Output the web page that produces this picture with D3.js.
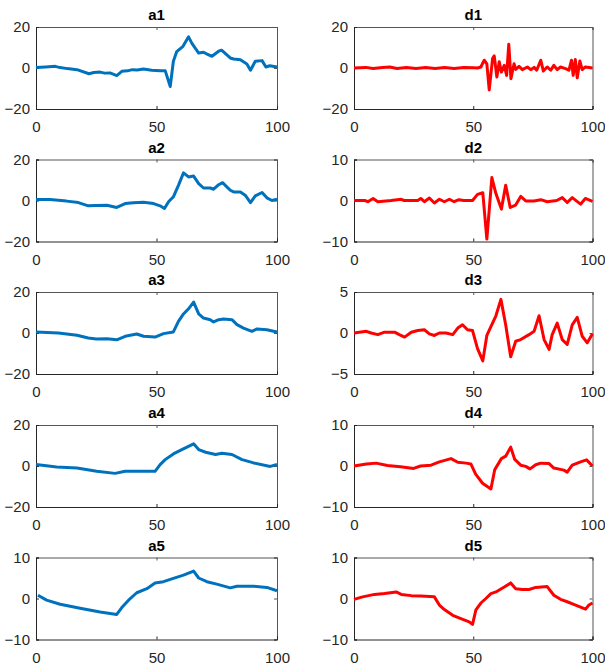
<!DOCTYPE html>
<html>
<head>
<meta charset="utf-8">
<script src="https://cdn.jsdelivr.net/npm/d3@7"></script>
<style>
  body { margin: 0; background: #fff; }
  svg { display: block; }
  .tick text { font-family: "Liberation Sans", Arial, sans-serif; font-size: 15px; fill: #262626; }
  .title { font-family: "Liberation Sans", Arial, sans-serif; font-size: 15px; font-weight: bold; fill: #000; }
</style>
</head>
<body>
<script>
// approximation series (blue), [x, y]
var a1 = [[0,0.3],[4,0.5],[8,0.8],[10,0.2],[13,-0.3],[17,-0.8],[22,-2.8],[24,-2.2],[26.6,-2],[28.5,-2.5],[30.7,-2.4],[33.5,-3.7],[35.6,-1.6],[38,-1.4],[40,-0.8],[42,-1],[44.6,-0.5],[48,-1.1],[51.5,-1.3],[53.6,-1.3],[55.7,-9],[57,3.3],[58.4,8],[61,10.6],[63.3,15.2],[64.7,12],[67.5,7.3],[69.5,7.7],[71,6.8],[73,5.7],[75.8,8.2],[77,8.7],[80.6,4.9],[82,4.4],[84.8,4],[87.5,2],[89,-1.1],[91,3.3],[93.8,3.6],[95.4,0.5],[97,1.1],[100,0.5]];
var a2 = [[0,0.5],[5.8,0.5],[12.7,-0.3],[17.6,-1],[21.7,-2.6],[25,-2.4],[29.4,-2.3],[33.5,-3.4],[37,-1.5],[40.4,-1.1],[44.6,-0.8],[48.8,-1.5],[51.5,-2.6],[53.3,-3.9],[55,-0.6],[57,1.8],[59.1,7.4],[61.2,13.5],[63.3,11.5],[65.4,11.9],[67.5,8.2],[69.5,6.1],[72.3,6.1],[73.7,5.5],[75.8,7.7],[77.4,8.7],[80.6,5],[82,4.2],[84.8,4.2],[86.8,2.6],[89,-1],[91,2.3],[93.8,3.9],[95.8,1.3],[97.9,0],[100,0.6]];
var a3 = [[0,0.5],[9.3,0],[17,-1.1],[21.7,-2.4],[25,-2.9],[29.4,-2.8],[33.5,-3.3],[37,-1.6],[41.8,-0.5],[44.6,-1.6],[49.4,-2],[52.9,-0.3],[57,0.5],[59.1,5.7],[61.2,9.3],[63.6,12.2],[65.4,15.1],[67.5,9.3],[69.5,7.3],[72.3,6.5],[73.7,5.4],[75.8,6.5],[77.8,6.8],[81.3,6.5],[83.4,4.1],[86.1,2.4],[89.6,0.8],[91.7,2],[95.8,1.6],[100,0.5]];
var a4 = [[0,0.7],[8.6,-0.5],[17,-1],[25.2,-2.6],[32.8,-3.6],[37,-2.6],[43.2,-2.6],[49.4,-2.6],[51.5,0.7],[53.6,3.1],[57,5.9],[60.5,8],[65.4,10.8],[67.5,8],[70.4,6.7],[74.5,5.6],[77.1,6.2],[81.3,5.6],[85.5,3.1],[90.3,1.5],[97.2,-0.2],[100,0.7]];
var a5 = [[0.8,0.8],[4.4,-0.4],[10,-1.4],[18.3,-2.4],[26.6,-3.3],[33.5,-3.9],[35.6,-2.2],[38.4,-0.4],[41.8,1.4],[46,2.4],[49.4,3.8],[52.9,4.1],[57,4.9],[61.2,5.7],[65.4,6.7],[67.5,5],[70.9,4.1],[75,3.5],[80.6,2.6],[83.4,3],[90.3,3],[95.8,2.7],[100,1.9]];

// detail series (red), [x, y]
var d1 = [[0,0],[5,0.3],[8,-0.2],[12,0.2],[15,0.5],[18,-0.2],[22,0.3],[26,-0.2],[30,0.2],[34,-0.3],[38,0.2],[42,-0.2],[46,0.2],[50,0.1],[51.8,0],[53.2,0.5],[54.6,3.8],[55.7,2],[56.7,-10.7],[58.1,4.6],[58.8,5.9],[59.9,-4.4],[60.9,3],[61.8,-2],[63,1.3],[64,-3.6],[64.9,11.6],[65.8,-5.2],[67.1,2.1],[67.8,-0.7],[69.2,0.8],[70.6,-0.8],[72.7,0.5],[74.1,-0.8],[75.5,0.3],[76.6,-1.1],[78.3,3.8],[79.4,-1.5],[81,0.5],[82.5,-1.1],[83.8,1.3],[85.2,-0.8],[86.6,0.5],[88.7,-0.3],[90.1,-1.1],[91.2,3.8],[91.9,-3.6],[92.8,4.1],[93.6,-4.8],[94.7,3.4],[95.7,-0.8],[97,0.5],[100,0]];
var d2 = [[0,0],[4.5,0],[5.8,-0.3],[8,0.5],[10,-0.3],[15.6,0],[19.8,0.3],[21,0],[26.7,0],[28,0.5],[29.5,-0.3],[31.6,0.6],[33.7,-0.6],[35.8,0.3],[37.9,-0.3],[40,0.3],[42,-0.3],[44,0.2],[46,0],[49.7,0],[51.8,1.5],[54,1.9],[55.7,-9.4],[57.8,5.6],[59.5,1.7],[61.8,-2.1],[63.6,3.7],[65.5,-1.7],[67.8,-1.1],[69.9,1],[72,-0.1],[75.5,-0.1],[78.3,0.2],[81,-0.3],[85,0],[87.3,0.7],[89.4,-0.5],[91.5,0.7],[95,-0.9],[97,0.5],[100,-0.2]];
var d3v = [[0,0],[5.2,0.2],[7.2,0],[10,-0.2],[12.8,0.1],[17,0.1],[19,-0.2],[21.2,-0.5],[24,0.1],[26.7,0.3],[29.5,0.4],[31.6,-0.1],[33.7,-0.3],[35.8,0],[38.6,0],[41.4,-0.2],[43.5,0.6],[45.5,1],[47.6,0.4],[49.7,0.3],[51.8,-1.9],[54,-3.4],[55.7,-0.3],[59.5,2.1],[61.6,4.1],[63.6,1],[65.7,-2.9],[67.8,-1],[69.9,-0.8],[73.4,-0.2],[75.5,0.2],[77.6,2.1],[79.7,-0.8],[81.8,-2],[83.1,-0.2],[85.2,1.2],[87.3,-0.8],[89.4,-1.4],[91.5,1],[93.6,1.9],[95.7,-0.4],[97.8,-1.2],[100,-0.1]];
var d4 = [[0,0],[5.2,0.5],[9.3,0.7],[14,0.1],[19.5,-0.2],[25,-0.6],[27.9,0],[32.3,0.2],[35.8,1],[40.7,1.8],[43.5,0.9],[47,0.7],[49,0.5],[51,-2],[53.9,-4.2],[57.4,-5.6],[59,-0.9],[61.8,1.8],[63.6,2.4],[65.7,4.6],[67.4,1.6],[69.9,0.2],[72,-0.1],[73.8,-0.7],[76.2,0.3],[78.3,0.7],[81.8,0.6],[83.8,-0.5],[88,-1],[89.4,-1.5],[91.5,0.2],[95,1],[97.5,1.5],[100,0]];
var d5 = [[0,-0.2],[3.6,0.4],[8.6,1],[12.8,1.2],[17.7,1.6],[19.8,1],[24,0.7],[28,0.6],[33.7,0.4],[35.8,-1.6],[37.9,-2.7],[41.4,-4.1],[44.8,-4.9],[48.3,-5.7],[49.7,-6.3],[51.1,-2.8],[53.2,-1.1],[55.3,0],[57.4,1.2],[59.5,1.6],[63,2.8],[65.7,3.8],[67.8,2.4],[70.6,2.2],[73.4,2.2],[76.2,2.7],[81,2.9],[83.8,0.8],[86.6,-0.2],[89.4,-0.8],[92.9,-1.6],[97.1,-2.6],[98.5,-1.6],[100,-1.1]];

var titles = ["a1", "d1", "a2", "d2", "a3", "d3", "a4", "d4", "a5", "d5"];
var series = [a1, d1, a2, d2, a3, d3v, a4, d4, a5, d5];
var yLimits = [20, 20, 20, 10, 20, 5, 20, 10, 10, 10];
var xTicks = [0, 50, 100];

var colLeft = [36, 354];
var colWidth = [241, 238.5];
var rowTop = [27, 159.5, 292, 425, 557.5];
var plotHeight = 82;

var svg = d3.select("body").append("svg")
    .attr("width", 605)
    .attr("height", 667);

series.forEach(function(data, i) {
    var col = i % 2, row = Math.floor(i / 2);
    var left = colLeft[col], top = rowTop[row];
    var w = colWidth[col], h = plotHeight;
    var lim = yLimits[i];
    var color = col == 0 ? "#0072BD" : "#FF0000";

    var x = d3.scaleLinear().domain([0, 100]).range([left, left + w]);
    var y = d3.scaleLinear().domain([-lim, lim]).range([top + h, top]);

    var g = svg.append("g");

    // mirrored box ticks (top / right)
    g.append("g").attr("transform", "translate(0," + top + ")")
        .call(d3.axisTop(x).tickValues(xTicks).tickSize(-3).tickFormat(""))
        .call(function(s) { s.selectAll("path, line").attr("stroke", "#555"); });
    g.append("g").attr("transform", "translate(" + (left + w) + ",0)")
        .call(d3.axisRight(y).tickValues([-lim, 0, lim]).tickSize(-3).tickFormat(""))
        .call(function(s) { s.selectAll("path, line").attr("stroke", "#555"); });

    g.append("g").attr("transform", "translate(0," + (top + h) + ")")
        .call(d3.axisBottom(x).tickValues(xTicks).tickSize(-3).tickPadding(12.5))
        .call(function(s) { s.selectAll("path, line").attr("stroke", "#262626"); });
    g.append("g").attr("transform", "translate(" + left + ",0)")
        .call(d3.axisLeft(y).tickValues([-lim, 0, lim]).tickSize(-3).tickPadding(6))
        .call(function(s) { s.selectAll("path, line").attr("stroke", "#262626"); });

    g.selectAll(".tick text").attr("font-family", null).attr("font-size", null);

    var line = d3.line()
        .x(function(d) { return x(d[0]); })
        .y(function(d) { return y(d[1]); });

    g.append("path")
        .datum(data)
        .attr("fill", "none")
        .attr("stroke", color)
        .attr("stroke-width", 3)
        .attr("stroke-linejoin", "round")
        .attr("d", line);

    g.append("text")
        .attr("class", "title")
        .attr("x", left + w / 2)
        .attr("y", top - 7)
        .attr("text-anchor", "middle")
        .text(titles[i]);
});
</script>
</body>
</html>
